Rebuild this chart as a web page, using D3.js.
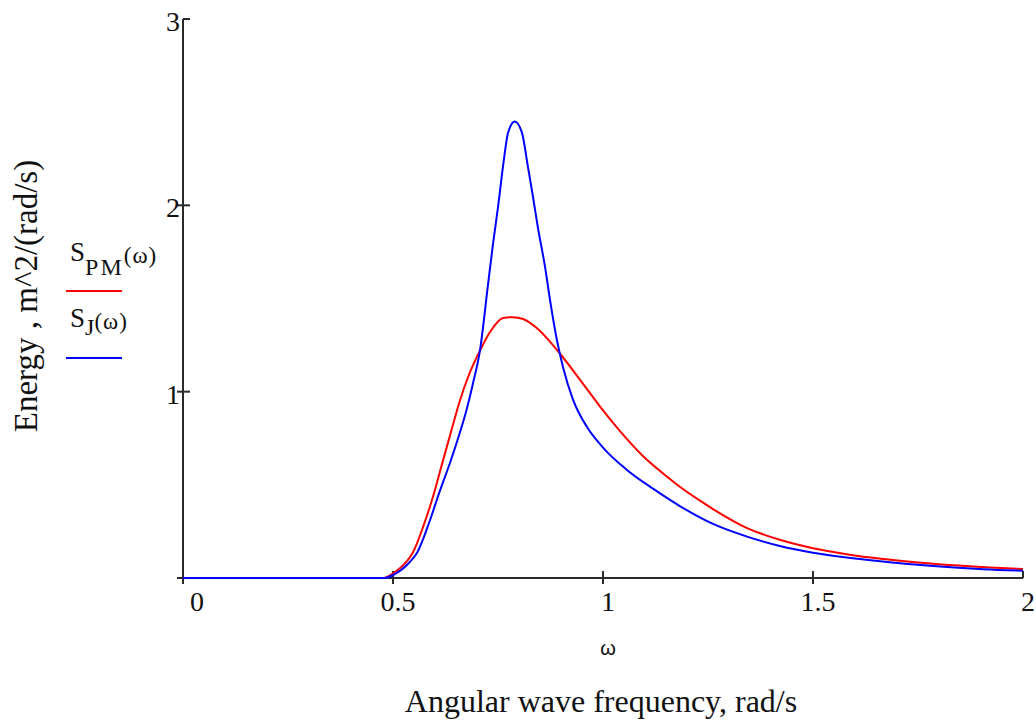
<!DOCTYPE html>
<html>
<head>
<meta charset="utf-8">
<script src="https://cdn.jsdelivr.net/npm/d3@7/dist/d3.min.js"></script>
<style>
  html, body { margin: 0; padding: 0; background: #fff; }
  svg { display: block; }
  text { font-family: "Liberation Serif", "Times New Roman", serif; fill: #111; }
</style>
</head>
<body>
<svg id="chart" width="1036" height="722"></svg>
<script>
// ---- data ----
const pmOmega = [0, 0.475, 0.5, 0.533, 0.548, 0.571, 0.595, 0.619, 0.64, 0.659, 0.679, 0.707, 0.731, 0.762, 0.785, 0.81, 0.843, 0.89, 0.945, 0.993, 1.04, 1.095, 1.152, 1.183, 1.231, 1.262, 1.343, 1.421, 1.5, 1.58, 1.667, 1.786, 1.921, 2.0];
const pmValues = [0, 0, 0.025, 0.09, 0.14, 0.27, 0.435, 0.63, 0.80, 0.95, 1.08, 1.22, 1.32, 1.395, 1.40, 1.39, 1.34, 1.225, 1.065, 0.92, 0.79, 0.655, 0.545, 0.49, 0.415, 0.37, 0.268, 0.205, 0.16, 0.128, 0.102, 0.077, 0.057, 0.048];

const jsOmega = [0, 0.48, 0.5, 0.54, 0.557, 0.588, 0.612, 0.636, 0.655, 0.676, 0.69, 0.707, 0.726, 0.738, 0.75, 0.762, 0.774, 0.79, 0.807, 0.821, 0.833, 0.845, 0.862, 0.874, 0.89, 0.905, 0.929, 0.962, 1.0, 1.057, 1.12, 1.183, 1.262, 1.343, 1.421, 1.5, 1.58, 1.66, 1.786, 1.905, 2.0];
const jsValues = [0, 0, 0.016, 0.086, 0.134, 0.31, 0.47, 0.62, 0.75, 0.91, 1.04, 1.22, 1.57, 1.79, 1.99, 2.21, 2.39, 2.45, 2.39, 2.21, 2.05, 1.88, 1.67, 1.49, 1.28, 1.13, 0.955, 0.81, 0.70, 0.58, 0.478, 0.386, 0.29, 0.222, 0.172, 0.136, 0.11, 0.09, 0.064, 0.047, 0.039];

const xTicks = [0, 0.5, 1, 1.5, 2];
const xTickLabels = ["0", "0.5", "1", "1.5", "2"];
const yTicks = [1, 2, 3];
const yTickLabels = ["1", "2", "3"];

// ---- layout ----
const svg = d3.select("#chart");
const x = d3.scaleLinear().domain([0, 2]).range([183, 1023]);
const y = d3.scaleLinear().domain([0, 3]).range([578, 19]);
const axisColor = "#2a2a2a";

const line = d3.line().x(d => x(d[0])).y(d => y(d[1])).curve(d3.curveMonotoneX);
const pmData = pmOmega.map((w, i) => [w, pmValues[i]]);
const jsData = jsOmega.map((w, i) => [w, jsValues[i]]);

// axes
const gA = svg.append("g");
gA.append("line")
  .attr("x1", x(0) - 6).attr("x2", x(2))
  .attr("y1", y(0)).attr("y2", y(0))
  .attr("stroke", axisColor).attr("stroke-width", 2);
gA.append("line")
  .attr("x1", x(0)).attr("x2", x(0))
  .attr("y1", y(3)).attr("y2", y(0) + 6)
  .attr("stroke", axisColor).attr("stroke-width", 2);

xTicks.forEach((t, i) => {
  if (t > 0) {
    const last = i === xTicks.length - 1;
    gA.append("line")
      .attr("x1", x(t)).attr("x2", x(t))
      .attr("y1", y(0) - 7).attr("y2", last ? y(0) : y(0) + 6)
      .attr("stroke", axisColor).attr("stroke-width", 2);
  }
  gA.append("text")
    .attr("x", x(t) + (t === 0 ? 14 : 5))
    .attr("y", y(0) + 33)
    .attr("text-anchor", "middle")
    .attr("font-size", 28)
    .text(xTickLabels[i]);
});

yTicks.forEach((t, i) => {
  const last = i === yTicks.length - 1;
  gA.append("line")
    .attr("x1", last ? x(0) : x(0) - 6).attr("x2", x(0) + 7)
    .attr("y1", y(t)).attr("y2", y(t))
    .attr("stroke", axisColor).attr("stroke-width", 2);
  gA.append("text")
    .attr("x", x(0) - 3)
    .attr("y", y(t) + 12)
    .attr("text-anchor", "end")
    .attr("font-size", 28)
    .text(yTickLabels[i]);
});

// curves (red first, blue on top)
svg.append("path").datum(pmData)
  .attr("d", line).attr("fill", "none")
  .attr("stroke", "#ff0000").attr("stroke-width", 2);
svg.append("path").datum(jsData)
  .attr("d", line).attr("fill", "none")
  .attr("stroke", "#0000ff").attr("stroke-width", 2);

// legend
const leg = svg.append("g");
const t1 = leg.append("text").attr("x", 70).attr("y", 261);
t1.append("tspan").attr("font-size", 27).text("S");
t1.append("tspan").attr("font-size", 24).attr("dy", 14).attr("letter-spacing", 2).text("PM");
t1.append("tspan").attr("font-size", 23).attr("dy", -12).attr("letter-spacing", 1).text("(ω)");
leg.append("line").attr("x1", 66).attr("x2", 122).attr("y1", 291).attr("y2", 291)
  .attr("stroke", "#ff0000").attr("stroke-width", 2);
const t2 = leg.append("text").attr("x", 70).attr("y", 327);
t2.append("tspan").attr("font-size", 27).text("S");
t2.append("tspan").attr("font-size", 24).attr("dy", 8).text("J");
t2.append("tspan").attr("font-size", 23).attr("dy", -6).attr("letter-spacing", 1).text("(ω)");
leg.append("line").attr("x1", 66).attr("x2", 122).attr("y1", 358).attr("y2", 358)
  .attr("stroke", "#0000ff").attr("stroke-width", 2);

// axis titles
svg.append("text")
  .attr("x", 608).attr("y", 655)
  .attr("text-anchor", "middle")
  .style("font-family", "'Liberation Sans', Arial, sans-serif")
  .attr("font-size", 20)
  .text("ω");
svg.append("text")
  .attr("x", 601).attr("y", 712)
  .attr("text-anchor", "middle")
  .attr("font-size", 32)
  .text("Angular wave frequency, rad/s");
svg.append("text")
  .attr("transform", "translate(37,296) rotate(-90)")
  .attr("text-anchor", "middle")
  .attr("font-size", 33)
  .text("Energy , m^2/(rad/s)");
</script>
</body>
</html>
